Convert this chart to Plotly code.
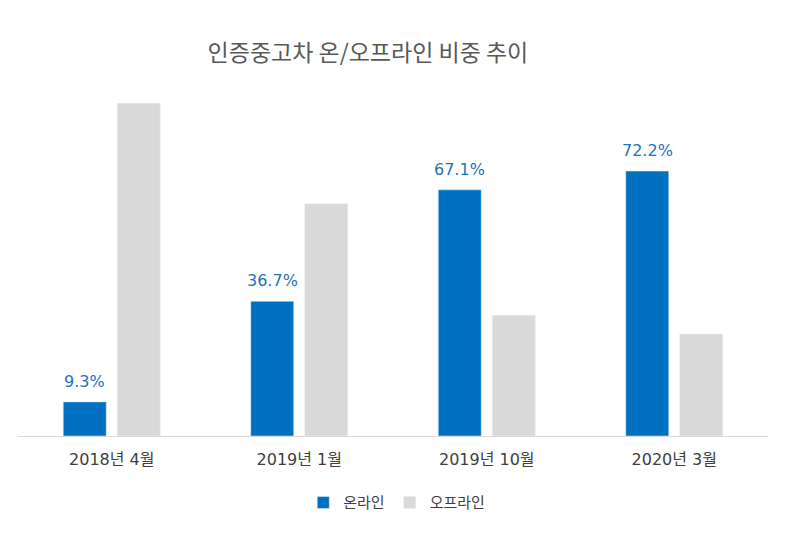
import plotly.graph_objects as go

# categories and shares (%)
categories = ["2018년 4월", "2019년 1월", "2019년 10월", "2020년 3월"]
online = [9.3, 36.7, 67.1, 72.2]
offline = [90.7, 63.3, 32.9, 27.8]
online_labels = ["9.3%", "36.7%", "67.1%", "72.2%"]

font_kr = "Noto Sans CJK KR"
font_mix = "DejaVu Sans, Noto Sans CJK KR"

fig = go.Figure()
fig.add_trace(go.Bar(x=categories, y=online, name="온라인",
                     marker=dict(color="#0070C0")))
fig.add_trace(go.Bar(x=categories, y=offline, name="오프라인",
                     marker=dict(color="#D9D9D9")))

# value labels above online bars
for cat, val, lab in zip(categories, online, online_labels):
    fig.add_annotation(x=cat, y=val, text=lab, showarrow=False,
                       xshift=-27, yshift=9, yanchor="bottom",
                       font=dict(family=font_mix, size=16, color="#1F72B8"))

fig.update_layout(
    width=807, height=533,
    paper_bgcolor="white", plot_bgcolor="white",
    margin=dict(l=10, r=47, t=82, b=105),
    barmode="group", bargap=0.424, bargroupgap=0.204,
    title=dict(text="인증중고차 온/오프라인 비중 추이", x=0.446, xanchor="center",
               xref="container", y=0.915, yanchor="middle",
               font=dict(family=font_kr, size=23, color="#595959")),
    font=dict(family=font_kr, size=14, color="#404040"),
    legend=dict(orientation="h", x=0.505, xanchor="center", y=-0.193, yanchor="middle",
                font=dict(size=15, color="#404040")),
)
fig.update_xaxes(showline=True, linecolor="#D9D9D9", linewidth=1, ticks="",
                 ticklabelstandoff=9,
                 tickfont=dict(family=font_mix, size=16, color="#404040"))
fig.update_yaxes(visible=False, range=[0, 94.3], showgrid=False)

fig.write_html("out.html")
